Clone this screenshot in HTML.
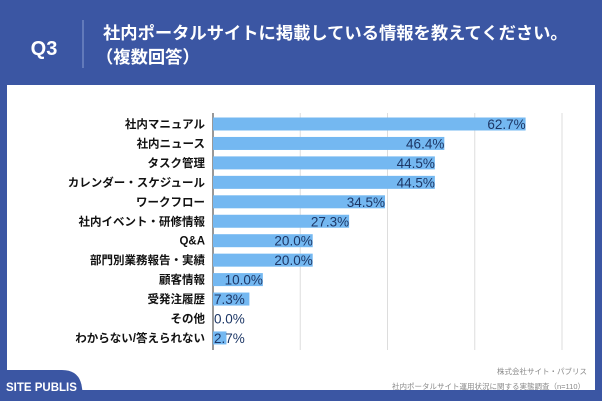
<!DOCTYPE html>
<html><head><meta charset="utf-8"><style>
html,body{margin:0;padding:0;width:602px;height:401px;overflow:hidden;background:#3b56a3;font-family:"Liberation Sans","Noto Sans CJK JP",sans-serif;}
</style></head><body>
<svg width="602" height="401" viewBox="0 0 602 401">
<rect x="0" y="0" width="602" height="401" fill="#3b56a3"/>
<text x="44" y="55" fill="#fff" font-size="20" font-weight="bold" text-anchor="middle">Q3</text>
<line x1="83" y1="20" x2="83" y2="68" stroke="#8a9fd0" stroke-width="1"/>
<text x="103" y="39" fill="#fff" font-size="17.3" font-weight="bold">社内ポータルサイトに掲載している情報を教えてください。</text>
<text x="96" y="63" fill="#fff" font-size="17.3" font-weight="bold">（複数回答）</text>
<rect x="7" y="85" width="588" height="305" fill="#fff"/>
<g id="plot"></g>
<path d="M0,401 L0,370 L62,370 Q80,370 82,388 L84,401 Z" fill="#3b56a3"/>
<text x="6" y="391" fill="#fff" font-size="11.5" font-weight="bold">SITE PUBLIS</text>
<text x="587" y="374" fill="#888" font-size="7.5" text-anchor="end">株式会社サイト・パブリス</text>
<text x="585" y="389" fill="#888" font-size="7.5" text-anchor="end">社内ポータルサイト運用状況に関する実態調査（n=110）</text>
</svg>
<script>
const categories=["社内マニュアル","社内ニュース","タスク管理","カレンダー・スケジュール","ワークフロー","社内イベント・研修情報","Q&A","部門別業務報告・実績","顧客情報","受発注履歴","その他","わからない/答えられない"];
const values=[62.7,46.4,44.5,44.5,34.5,27.3,20.0,20.0,10.0,7.3,0.0,2.7];
const gridTicks=[17.5,35,52.5,70];
const NS="http://www.w3.org/2000/svg";
const g=document.getElementById('plot');
const x0=213,xMax=70,pxW=349,y0=124,pitch=19.45,bh=13;
const xs=v=>x0+v/xMax*pxW;
const ys=i=>y0+i*pitch;
function mk(t,a){const e=document.createElementNS(NS,t);for(const k in a)e.setAttribute(k,a[k]);g.appendChild(e);return e;}
gridTicks.forEach((t,i)=>{const l=mk('line',{x1:xs(t),x2:xs(t),y1:113,y2:350,stroke:'#ddd','stroke-width':1});

});
const ax=mk('line',{x1:x0,x2:x0,y1:113,y2:350,stroke:'#333','stroke-width':1});


categories.forEach((c,i)=>{
const cy=ys(i);
const lab=mk('text',{x:205,y:cy+4,'font-size':11.5,'font-weight':'bold',fill:'#111','text-anchor':'end'});lab.textContent=c;


const b=mk('rect',{x:x0,y:cy-bh/2,width:Math.max(0,xs(values[i])-x0),height:bh,fill:'#74b8f1'});


const txt=values[i].toFixed(1)+'%';const w=xs(values[i])-x0;
const v=w>45?mk('text',{x:xs(values[i]),y:cy+5,'font-size':13.5,fill:'#1d3766','text-anchor':'end'}):mk('text',{x:x0+1,y:cy+5,'font-size':13.5,fill:'#1d3766','text-anchor':'start'});
v.textContent=txt;


});
</script>
</body></html>
